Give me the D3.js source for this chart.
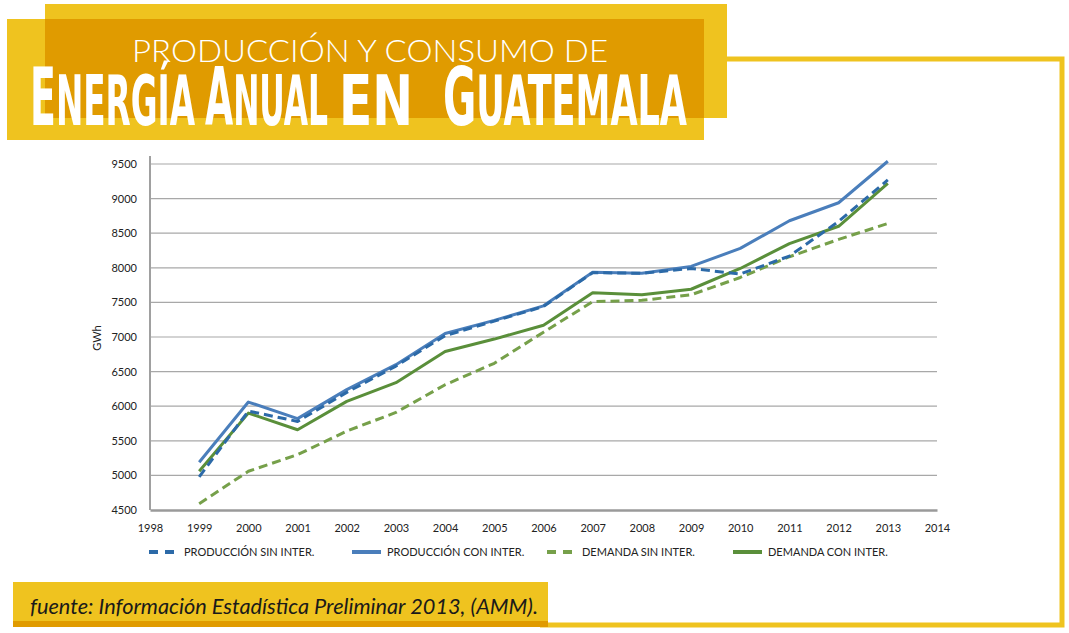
<!DOCTYPE html>
<html lang="es">
<head>
<meta charset="UTF-8">
<title>Producción y consumo de energía anual en Guatemala</title>
<script src="https://d3js.org/d3.v7.min.js"></script>
<style>
  html, body { margin: 0; padding: 0; background: #fff; }
  svg { display: block; }
  .tick text { font-family: Lato, "Open Sans", sans-serif; font-size: 11px; fill: #222; }
</style>
</head>
<body>
<div id="chart"></div>
<script>
// years on the x axis
const years = [1999, 2000, 2001, 2002, 2003, 2004, 2005, 2006, 2007, 2008, 2009, 2010, 2011, 2012, 2013];
// GWh
const produccionSin = [4980, 5930, 5780, 6200, 6580, 7020, 7230, 7440, 7930, 7920, 7990, 7910, 8170, 8670, 9270];
const produccionCon = [5190, 6060, 5820, 6240, 6600, 7050, 7240, 7450, 7935, 7920, 8020, 8280, 8680, 8940, 9540];
const demandaSin    = [4590, 5060, 5300, 5640, 5910, 6310, 6620, 7070, 7510, 7530, 7610, 7860, 8160, 8410, 8640];
const demandaCon    = [5060, 5900, 5660, 6070, 6340, 6790, 6970, 7170, 7640, 7610, 7690, 7990, 8350, 8600, 9220];
const seriesNames = ["PRODUCCIÓN SIN INTER.", "PRODUCCIÓN CON INTER.", "DEMANDA SIN INTER.", "DEMANDA CON INTER."];
const xTicks = d3.range(1998, 2015);
const yTicks = [4500, 5000, 5500, 6000, 6500, 7000, 7500, 8000, 8500, 9000, 9500];
// [raised capital, rest] for each title word
const titleWords = [["E", "NERGÍA"], ["A", "NUAL"], ["", "EN"], ["G", "UATEMALA"]];

const W = 1069, H = 633;
const yellow = "#EFC31F", orange = "#E09B00";

const svg = d3.select("#chart").append("svg")
  .attr("width", W).attr("height", H);

// frame around the chart
svg.append("path")
  .attr("d", "M727,59 H1062 V625 H540")
  .attr("fill", "none").attr("stroke", yellow).attr("stroke-width", 5);

// title blocks
svg.append("rect").attr("x", 45).attr("y", 4).attr("width", 682).attr("height", 114).attr("fill", yellow);
svg.append("rect").attr("x", 7).attr("y", 19).attr("width", 697).attr("height", 121).attr("fill", yellow);
svg.append("rect").attr("x", 45).attr("y", 19).attr("width", 659).attr("height", 99).attr("fill", orange);

svg.append("text")
  .attr("x", 132).attr("y", 62)
  .attr("textLength", 476).attr("lengthAdjust", "spacingAndGlyphs")
  .style("font-family", "Lato, 'Open Sans', sans-serif").style("font-weight", 300)
  .style("font-size", "31px").style("fill", "#fff")
  .text("PRODUCCIÓN Y CONSUMO DE");

// big title: each word squeezed to its width
const wordSpan = [[30, 165], [205, 123], [339, 74], [443, 244]];
titleWords.forEach((w, i) => {
  const g = svg.append("g");
  const font = "'DejaVu Sans Condensed', 'Liberation Sans Narrow', sans-serif";
  const first = g.append("text")
    .attr("x", 0).attr("y", 0)
    .style("font-family", font).style("font-weight", 700)
    .style("font-size", "80px").style("fill", "#fff")
    .text(w[0]);
  const w0 = w[0] ? first.node().getComputedTextLength() : 0;
  const rest = g.append("text")
    .attr("x", w0).attr("y", 0)
    .style("font-family", font).style("font-weight", 700)
    .style("font-size", "69px").style("fill", "#fff")
    .text(w[1]);
  const total = w0 + rest.node().getComputedTextLength();
  g.attr("transform", `translate(${wordSpan[i][0]},125) scale(${wordSpan[i][1] / total},1)`);
});

// plot area
const margin = { left: 150, right: 937, top: 164, bottom: 510 };
const x = d3.scaleLinear().domain([1998, 2014]).range([margin.left, margin.right]);
const y = d3.scaleLinear().domain([4500, 9500]).range([margin.bottom, margin.top]);

// horizontal grid
svg.append("g")
  .selectAll("line")
  .data(yTicks.slice(1))
  .enter().append("line")
  .attr("x1", margin.left).attr("x2", margin.right)
  .attr("y1", d => y(d)).attr("y2", d => y(d))
  .attr("stroke", "#A8A8A8").attr("stroke-width", 1.2);

// y axis
const yAxis = svg.append("g")
  .attr("transform", `translate(${margin.left},0)`)
  .call(d3.axisLeft(y).tickValues(yTicks).tickFormat(d3.format("d")).tickSize(0).tickPadding(13));
yAxis.select(".domain").remove();
svg.append("line")
  .attr("x1", margin.left).attr("x2", margin.left)
  .attr("y1", 156).attr("y2", margin.bottom)
  .attr("stroke", "#A0A0A0").attr("stroke-width", 2);

// x axis
const xAxis = svg.append("g")
  .attr("transform", `translate(0,${margin.bottom})`)
  .call(d3.axisBottom(x).tickValues(xTicks).tickFormat(d3.format("d")).tickSize(0).tickPadding(14));
xAxis.select(".domain").attr("stroke", "#9A9A9A").attr("stroke-width", 2.5);

svg.append("text")
  .attr("transform", "translate(101,338) rotate(-90)")
  .attr("text-anchor", "middle")
  .style("font-family", "Lato, sans-serif").style("font-size", "11px").style("fill", "#222")
  .text("GWh");

// series
const series = [
  { name: seriesNames[0], values: produccionSin, color: "#2C6AA8", dash: "9,5" },
  { name: seriesNames[1], values: produccionCon, color: "#4A7EBB", dash: null },
  { name: seriesNames[2], values: demandaSin, color: "#76A04A", dash: "9,5" },
  { name: seriesNames[3], values: demandaCon, color: "#5A8F3A", dash: null }
];

const line = d3.line()
  .x((d, i) => x(years[i]))
  .y(d => y(d));

// draw demand first, production on top
[2, 3, 1, 0].forEach(k => {
  const s = series[k];
  svg.append("path")
    .datum(s.values)
    .attr("d", line)
    .attr("fill", "none")
    .attr("stroke", s.color)
    .attr("stroke-width", 3)
    .attr("stroke-dasharray", s.dash)
    .attr("stroke-linejoin", "round");
});

// legend
const legendX = [149, 352, 547, 733];
const legend = svg.append("g").selectAll("g")
  .data(series)
  .enter().append("g")
  .attr("transform", (d, i) => `translate(${legendX[i]},552)`);
legend.append("line")
  .attr("x1", 0).attr("x2", 29)
  .attr("stroke", d => d.color).attr("stroke-width", 4)
  .attr("stroke-dasharray", d => d.dash ? "9,7" : null);
legend.append("text")
  .attr("x", 35).attr("y", 4)
  .style("font-family", "Lato, sans-serif").style("font-size", "11px").style("fill", "#222")
  .text(d => d.name);

// source box
svg.append("rect").attr("x", 13).attr("y", 582).attr("width", 535).attr("height", 42).attr("fill", yellow);
svg.append("rect").attr("x", 13).attr("y", 621).attr("width", 535).attr("height", 6).attr("fill", orange);
svg.append("text")
  .attr("x", 30).attr("y", 614)
  .attr("textLength", 508).attr("lengthAdjust", "spacingAndGlyphs")
  .style("font-family", "Lato, 'Open Sans', sans-serif").style("font-style", "italic")
  .style("font-size", "22px").style("fill", "#1a1a1a")
  .text("fuente: Información Estadística Preliminar 2013, (AMM).");
</script>
</body>
</html>
